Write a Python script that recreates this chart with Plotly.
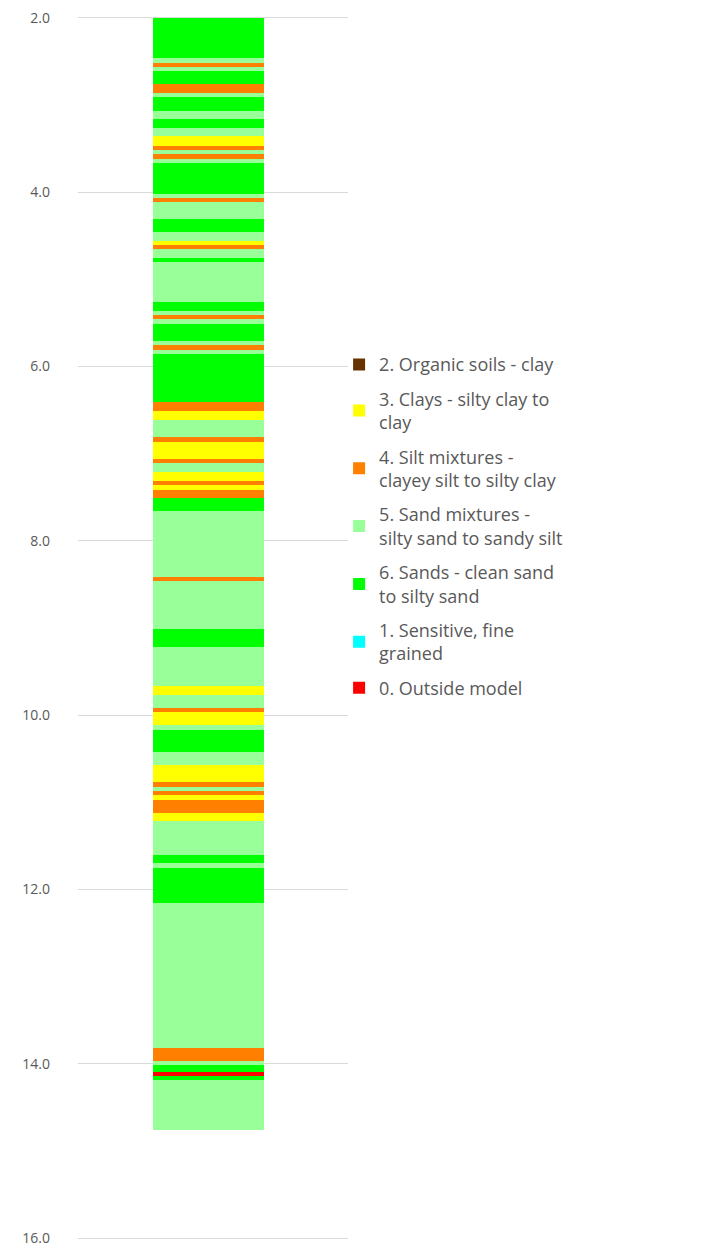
import plotly.graph_objects as go

# Layer tops (m) and class codes; column_bottom closes the last layer
layer_tops = [2.00, 2.455, 2.512, 2.558, 2.604, 2.753, 2.856, 2.902, 3.063, 3.155,
              3.258, 3.357, 3.464, 3.510, 3.556, 3.613, 3.659, 4.014, 4.060, 4.106,
              4.312, 4.461, 4.564, 4.610, 4.656, 4.759, 4.805, 5.264, 5.367, 5.413,
              5.459, 5.516, 5.711, 5.757, 5.814, 5.860, 6.410, 6.513, 6.616, 6.811,
              6.868, 7.063, 7.109, 7.212, 7.315, 7.361, 7.418, 7.510, 7.659, 8.415,
              8.461, 9.011, 9.217, 9.664, 9.767, 9.916, 9.962, 10.110, 10.167, 10.419,
              10.568, 10.763, 10.821, 10.866, 10.912, 10.970, 11.119, 11.211, 11.60, 11.70,
              11.75, 12.15, 13.82, 13.97, 14.02, 14.10, 14.14, 14.19]
column_bottom = 14.76
layer_class = [6, 5, 4, 5, 6, 4, 5, 6, 5, 6,
               5, 3, 4, 5, 4, 5, 6, 5, 4, 5,
               6, 5, 3, 4, 5, 6, 5, 6, 5, 4,
               5, 6, 5, 4, 5, 6, 4, 3, 5, 4,
               3, 4, 5, 3, 4, 3, 4, 6, 5, 4,
               5, 6, 5, 3, 5, 4, 3, 5, 6, 5,
               3, 4, 5, 4, 3, 4, 3, 5, 6, 5,
               6, 5, 4, 5, 6, 0, 6, 5]

legend_codes = [2, 3, 4, 5, 6, 1, 0]
legend_names = ["2. Organic soils - clay",
                "3. Clays - silty clay to<br>clay",
                "4. Silt mixtures -<br>clayey silt to silty clay",
                "5. Sand mixtures -<br>silty sand to sandy silt",
                "6. Sands - clean sand<br>to silty sand",
                "1. Sensitive, fine<br>grained",
                "0. Outside model"]
class_colors = {2: "#663300", 3: "#FFFF00", 4: "#FF8000", 5: "#99FF99",
                6: "#00FF00", 1: "#00FFFF", 0: "#FF0000"}

tick_vals = [2, 4, 6, 8, 10, 12, 14, 16]
tick_text = ["2.0", "4.0", "6.0", "8.0", "10.0", "12.0", "14.0", "16.0"]

bottoms = layer_tops[1:] + [column_bottom]

fig = go.Figure()
for code, name in zip(legend_codes, legend_names):
    idx = [i for i, c in enumerate(layer_class) if c == code]
    if idx:
        xs = [0] * len(idx)
        ys = [bottoms[i] - layer_tops[i] for i in idx]
        bs = [layer_tops[i] for i in idx]
    else:
        xs, ys, bs = [0], [0], [2]
    fig.add_trace(go.Bar(x=xs, y=ys, base=bs, width=1, name=name,
                         legendgroup=str(code),
                         marker=dict(color=class_colors[code], line=dict(width=0)),
                         hoverinfo="skip"))

# page body adds an 8px margin, so the figure is 705x1240
fig.update_layout(
    width=705, height=1240,
    margin=dict(l=70, r=365, t=10, b=10, autoexpand=False),
    paper_bgcolor="white", plot_bgcolor="white",
    barmode="overlay", bargap=0,
    font=dict(family="Open Sans", size=14, color="#595959"),
    legend=dict(x=0.967, xanchor="left", y=0.731, yanchor="top",
                font=dict(size=18, color="#595959"),
                tracegroupgap=8, traceorder="grouped",
                itemwidth=30, bgcolor="rgba(0,0,0,0)"),
    showlegend=True,
)
fig.update_xaxes(range=[-1.176, 1.257], showticklabels=False, showgrid=False,
                 zeroline=False, showline=True, mirror=True, linecolor="#D9D9D9",
                 linewidth=1, automargin=False)
fig.update_yaxes(range=[16, 2], tickvals=tick_vals, ticktext=tick_text,
                 showgrid=True, gridcolor="#D9D9D9", gridwidth=1,
                 zeroline=False, showline=False, ticks="", automargin=False,
                 ticklabeloverflow="allow",
                 ticklabelstandoff=27, tickfont=dict(size=14, color="#595959"))

fig.write_html("out.html")
